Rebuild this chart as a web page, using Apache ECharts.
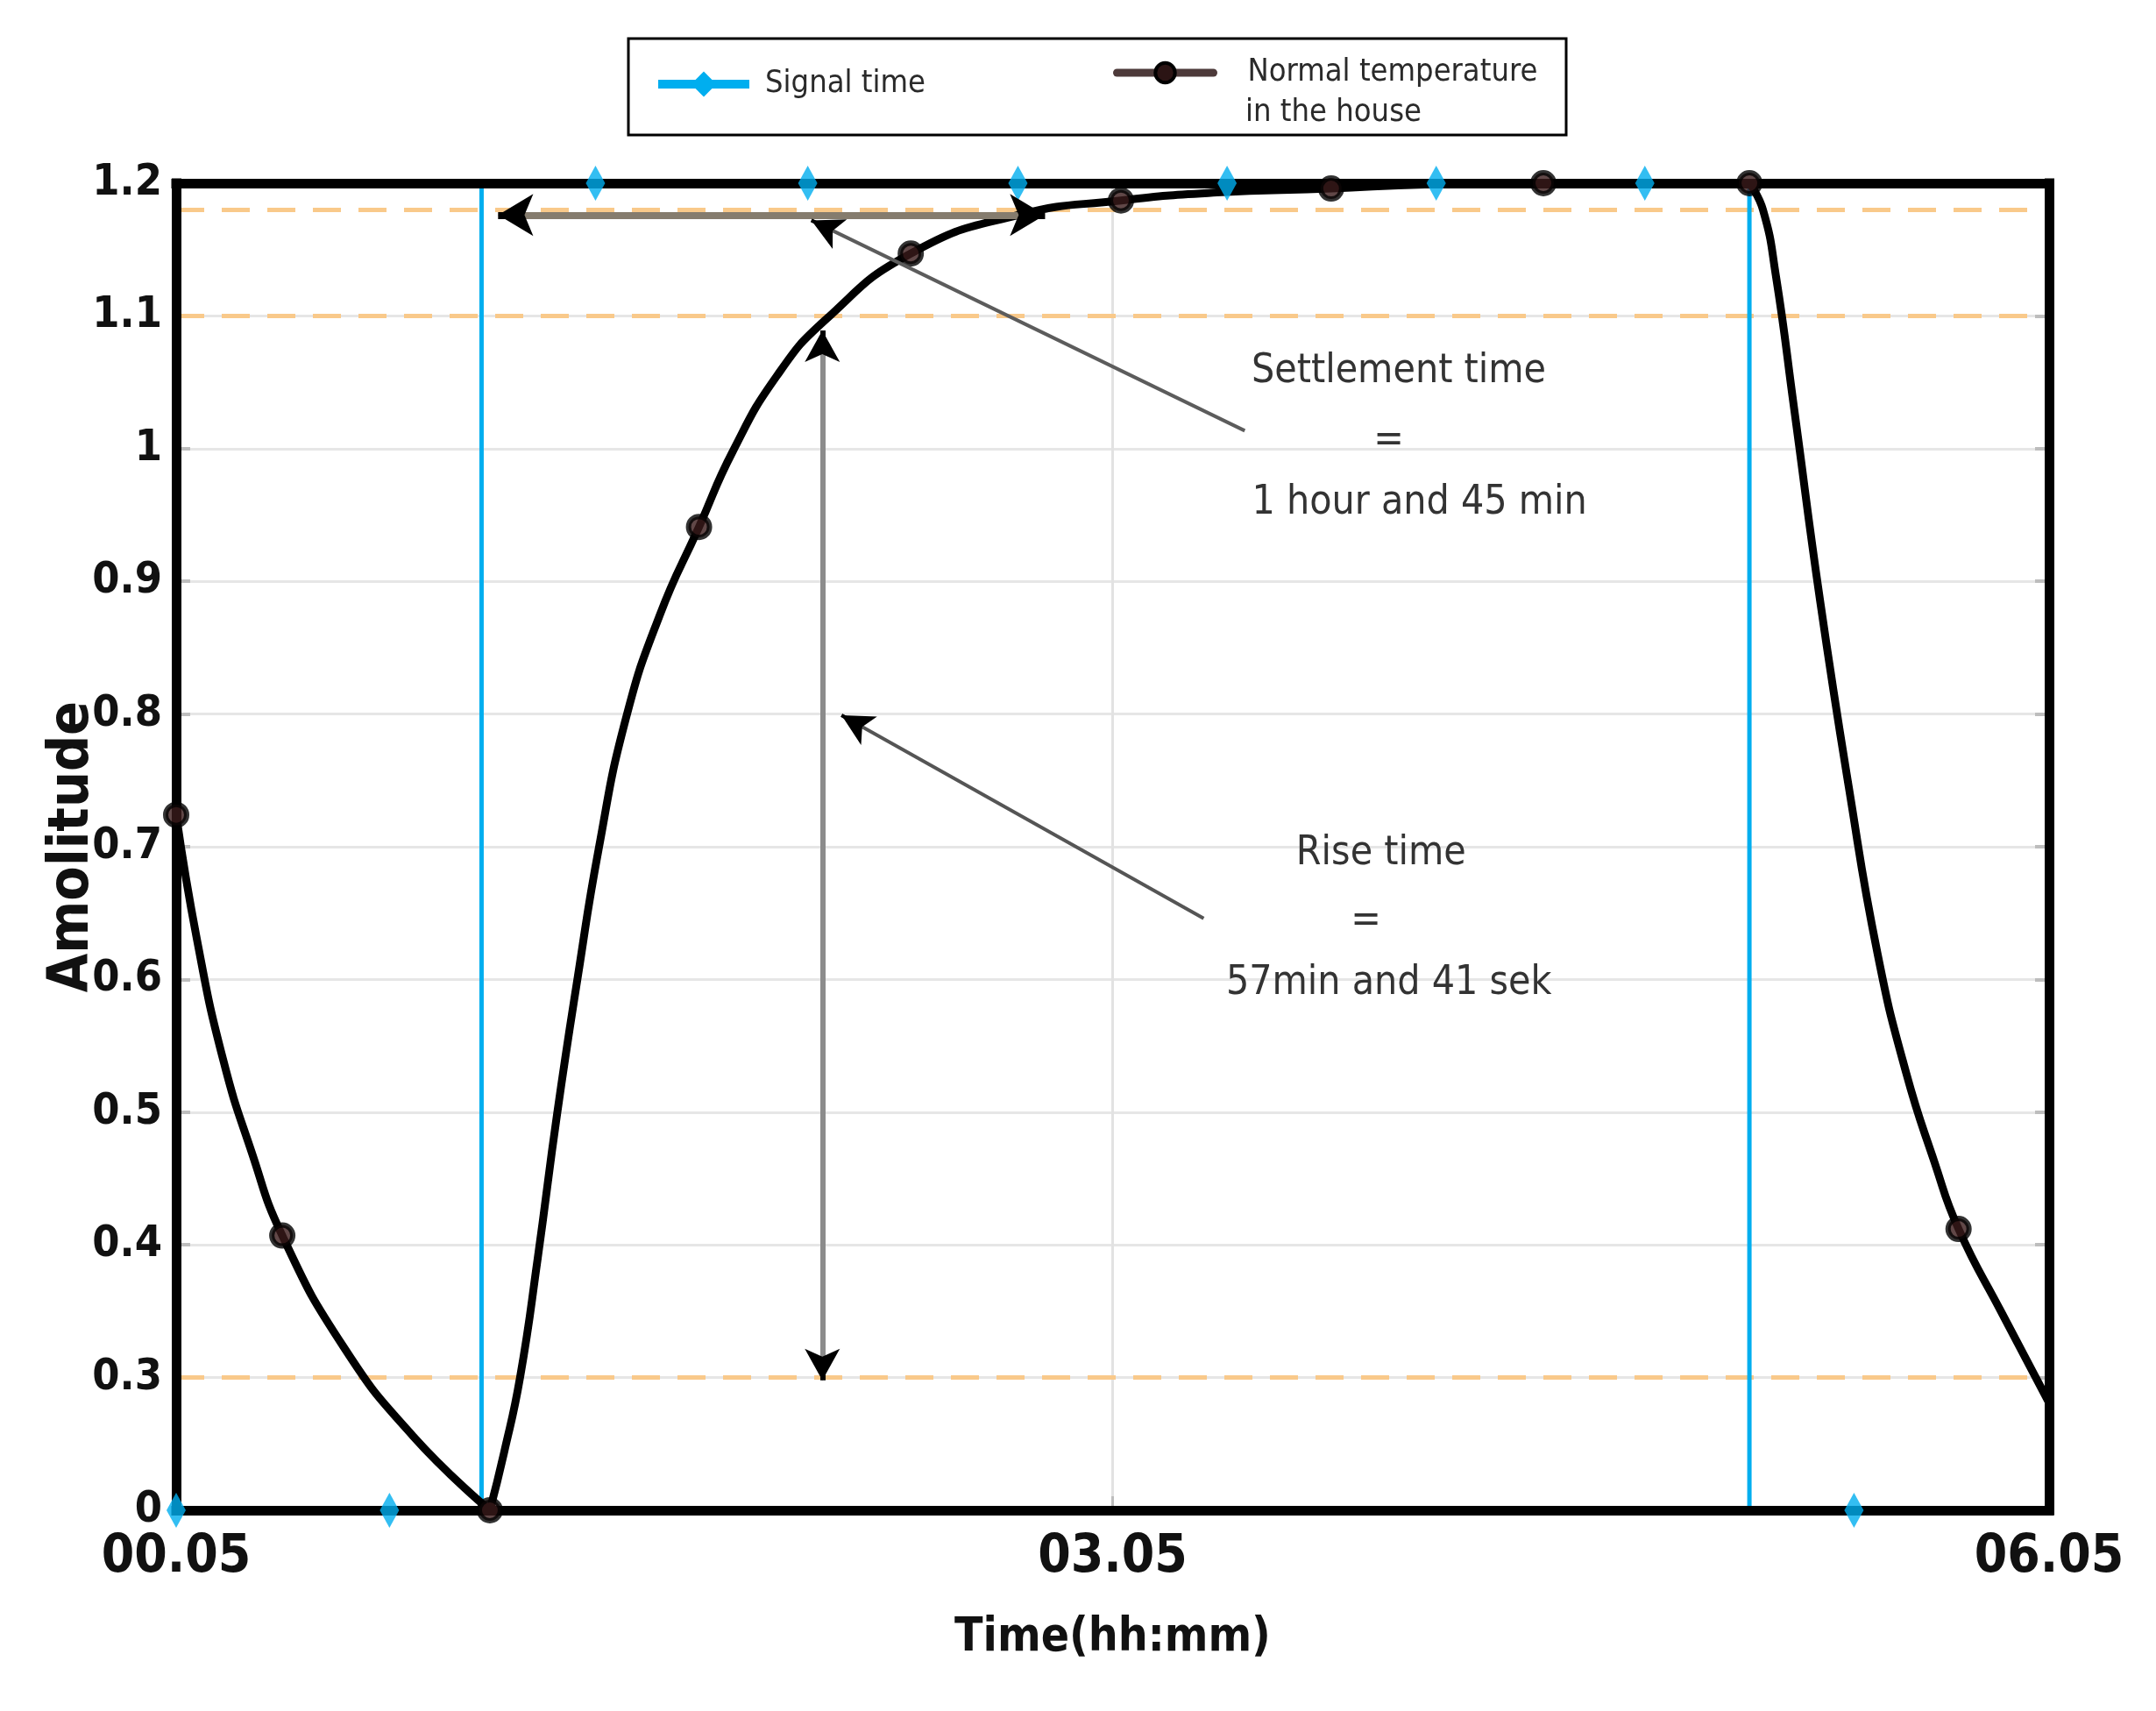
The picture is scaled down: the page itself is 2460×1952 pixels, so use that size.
<!DOCTYPE html>
<html>
<head>
<meta charset="utf-8">
<script src="https://cdn.jsdelivr.net/npm/echarts@6/dist/echarts.min.js"></script>
<style>html,body{margin:0;padding:0;background:#fff}#c{width:2460px;height:1952px}</style>
</head>
<body>
<div id="c"></div>
<script>
// ---------- data ----------
const xTickValues = [0, 180, 360];               // minutes after 00.05
const xTickLabels = ['00.05', '03.05', '06.05'];
const yTickLabels = ['0', '0.3', '0.4', '0.5', '0.6', '0.7', '0.8', '0.9', '1', '1.1', '1.2'];

const signalName = 'Signal time';
// square-wave outline of the signal
const signalLineTime  = [0, 58.7, 58.7, 302.4, 302.4, 360];
const signalLineValue = [0.2, 0.2, 1.2, 1.2, 0.2, 0.2];
// diamond sample points of the signal
const signalMarkTime  = [0, 41, 80.6, 121.4, 161.8, 202, 242.2, 282.3, 322.5];
const signalMarkValue = [0.2, 0.2, 1.2, 1.2, 1.2, 1.2, 1.2, 1.2, 0.2];

const tempName = 'Normal temperature in the house';
const tempTime   = [0, 4, 9, 14.5, 20.4, 32.2, 45.5, 60.3, 63, 66.1, 69.5, 73.2, 77.2, 81.2, 86.4, 93, 100.5, 107, 115.5, 124.8, 141.2, 161.8, 181.6, 200, 222, 240, 262.8, 302.4, 305, 307.5, 311, 316, 321.5, 327, 332.5, 338, 342.6, 351, 360];
const tempValue  = [0.724, 0.63, 0.54, 0.47, 0.407, 0.323, 0.256, 0.2, 0.243, 0.3, 0.39, 0.498, 0.602, 0.698, 0.796, 0.875, 0.941, 0.998, 1.055, 1.097, 1.147, 1.176, 1.187, 1.193, 1.196, 1.199, 1.2, 1.2, 1.18, 1.13, 1.03, 0.885, 0.745, 0.62, 0.53, 0.462, 0.412, 0.348, 0.281];
const tempMarked = [1, 0, 0, 0, 1, 0, 0, 1, 0, 0, 0, 0, 0, 0, 0, 0, 1, 0, 0, 0, 1, 0, 1, 0, 1, 0, 1, 1, 0, 0, 0, 0, 0, 0, 0, 0, 1, 0, 0];
const tempCorner = [0, 0, 0, 0, 0, 0, 0, 1, 0, 0, 0, 0, 0, 0, 0, 0, 0, 0, 0, 0, 0, 0, 0, 0, 0, 0, 0, 1, 0, 0, 0, 0, 0, 0, 0, 0, 0, 0, 0];

const refLevels = [1.176, 1.1, 0.3];   // orange dashed reference lines

// annotation arrows
const arrowFrom = [[61.9, 1.176], [205.4, 1.0135], [124.2, 0.298], [197.5, 0.646]];
const arrowTo   = [[167, 1.176],  [122.1, 1.172],  [124.2, 1.089], [127.9, 0.799]];
const arrowBoth = [true, false, true, false];

const noteTexts = ['Settlement time', '=', '1 hour and 45 min', 'Rise time', '=', '57min and 41 sek'];
const noteTime  = [235.0, 233.1, 239.0, 231.6, 228.7, 233.1];
const noteValue = [1.058, 1.006, 0.959, 0.695, 0.644, 0.597];

// ---------- styling ----------
const NARROW = '"Liberation Sans Narrow", "DejaVu Sans Condensed", "Arial Narrow", sans-serif';
const BLUE = '#00aeef';
const X_MIN = 0, X_MAX = 360, Y_MIN = 0.2, Y_MAX = 1.2;

const signalLine = signalLineTime.map((t, i) => [t, signalLineValue[i]]);
const signalMarks = signalMarkTime.map((t, i) => [t, signalMarkValue[i]]);
// temperature curve; sharp corners are kept by breaking the smooth path there
const tempData = [];
tempTime.forEach((t, i) => {
  tempData.push([t, tempValue[i]]);
  if (tempCorner[i]) { tempData.push('-'); tempData.push([t, tempValue[i]]); }
});
const tempMarkers = tempTime.map((t, i) => [t, tempValue[i]]).filter((d, i) => tempMarked[i]);

const arrowStyles = [
  {color: '#857c6e', width: 8, size: [36, 40]},
  {color: '#5c5c5c', width: 4, size: [28, 36]},
  {color: '#8c8c8c', width: 6, size: [30, 36]},
  {color: '#555555', width: 4, size: [28, 36]}
];
const PX_T = (2338 - 201) / 360, PX_V = (1723 - 209) / 1.0;
const arrowLines = [];
arrowFrom.forEach((f, i) => {
  const t = arrowTo[i], st = arrowStyles[i];
  arrowLines.push({
    data: [{coord: f, symbol: 'none'}, {coord: t, symbol: 'none'}],
    lineStyle: {color: st.color, width: st.width, type: 'solid'}
  });
  const dx = (t[0] - f[0]) * PX_T, dy = (t[1] - f[1]) * PX_V;
  const len = Math.sqrt(dx * dx + dy * dy), fr = 14 / len;
  const heads = [[t, f]];
  if (arrowBoth[i]) heads.push([f, t]);
  heads.forEach(([tip, other]) => {
    const back = [tip[0] + (other[0] - tip[0]) * fr, tip[1] + (other[1] - tip[1]) * fr];
    arrowLines.push({
      data: [{coord: back, symbol: 'none'},
             {coord: tip, symbol: 'arrow', symbolSize: st.size}],
      lineStyle: {color: '#000', width: st.width, type: 'solid'}
    });
  });
});

function borderX(pos) {
  return {type: 'value', min: X_MIN, max: X_MAX, position: pos, z: 3,
    axisLine: {show: true, onZero: false, lineStyle: {color: '#000', width: 11, cap: 'square'}},
    axisTick: {show: false}, axisLabel: {show: false}, splitLine: {show: false}};
}
function borderY(pos) {
  return {type: 'value', min: Y_MIN, max: Y_MAX, position: pos, z: 3,
    axisLine: {show: true, onZero: false, lineStyle: {color: '#000', width: 11, cap: 'square'}},
    axisTick: {show: false}, axisLabel: {show: false}, splitLine: {show: false}};
}

const option = {
  animation: false,
  backgroundColor: '#fff',
  grid: {left: 201, right: 122, top: 209, bottom: 229, containLabel: false},
  legend: [
    {data: [signalName], left: 741, top: 73, itemWidth: 104, itemHeight: 36,
     textStyle: {fontFamily: NARROW, fontSize: 36, color: '#2a2a2a', padding: [0, 0, 0, 13]},
     lineStyle: {width: 10}, selectedMode: false},
    {data: [tempName], left: 1265, top: 60, itemWidth: 110, itemHeight: 28,
     formatter: () => 'Normal temperature',
     textStyle: {fontFamily: NARROW, fontSize: 36, color: '#2a2a2a', padding: [0, 0, 0, 34]},
     lineStyle: {width: 9, color: '#4d3a3a'},
     itemStyle: {color: '#2b1414', borderColor: '#000', borderWidth: 4}, selectedMode: false}
  ],
  graphic: [
    {type: 'rect', shape: {x: 717, y: 44, width: 1070, height: 110},
     style: {fill: 'none', stroke: '#000', lineWidth: 3}, z: 10},
    {type: 'text', left: 1421, top: 111,
     style: {text: 'in the house', font: '36px ' + NARROW, fill: '#2a2a2a'}, z: 10}
  ],
  xAxis: [
    {type: 'value', min: X_MIN, max: X_MAX, interval: 180, position: 'bottom', z: 0,
     axisLine: {show: false, onZero: false},
     axisTick: {show: true, inside: true, length: 16, lineStyle: {color: '#bdbdbd', width: 3}},
     axisLabel: {margin: 24, fontFamily: NARROW, fontWeight: 'bold', fontSize: 60, color: '#111',
       formatter: v => xTickLabels[xTickValues.indexOf(Math.round(v))]},
     splitLine: {show: true, lineStyle: {color: '#e2e2e2', width: 3}},
     name: 'Time(hh:mm)', nameLocation: 'middle', nameGap: 120, nameMoveOverlap: false,
     nameTextStyle: {fontFamily: NARROW, fontWeight: 'bold', fontSize: 53, color: '#111'}},
    borderX('bottom'),
    borderX('top')
  ],
  yAxis: [
    {type: 'value', min: Y_MIN, max: Y_MAX, interval: 0.1, position: 'left', z: 0,
     axisLine: {show: false, onZero: false},
     axisTick: {show: true, inside: true, length: 16, lineStyle: {color: '#bdbdbd', width: 4}},
     axisLabel: {margin: 16, fontFamily: NARROW, fontWeight: 'bold', fontSize: 50, color: '#111',
       formatter: v => yTickLabels[Math.round((v - Y_MIN) * 10)]},
     splitLine: {show: true, lineStyle: {color: '#e6e6e6', width: 3}},
     name: 'Amolitude', nameLocation: 'middle', nameGap: 86, nameMoveOverlap: false,
     nameTextStyle: {fontFamily: NARROW, fontWeight: 'bold', fontSize: 64, color: '#111'}},
    {type: 'value', min: Y_MIN, max: Y_MAX, interval: 0.1, position: 'right', z: 0,
     axisLine: {show: false, onZero: false},
     axisTick: {show: true, inside: true, length: 16, lineStyle: {color: '#bdbdbd', width: 4}},
     axisLabel: {show: false}, splitLine: {show: false}},
    borderY('left'),
    borderY('right')
  ],
  series: [
    {name: signalName, type: 'line', xAxisIndex: 0, yAxisIndex: 0, data: signalLine,
     symbol: 'diamond', showSymbol: false, z: 2,
     lineStyle: {color: BLUE, width: 5}, itemStyle: {color: BLUE},
     markLine: {silent: true, animation: false, z: 1, symbol: ['none', 'none'],
       label: {show: false},
       lineStyle: {color: '#f9c98a', type: [32, 20], width: 5},
       data: refLevels.map(v => ({yAxis: v}))}},
    {name: tempName, type: 'line', xAxisIndex: 0, yAxisIndex: 0, data: tempData,
     smooth: 0.5, connectNulls: false, symbol: 'circle', showSymbol: false, z: 2,
     lineStyle: {color: '#000', width: 9, join: 'round', cap: 'round'},
     itemStyle: {color: '#2b1414', borderColor: '#000'},
     markLine: {silent: true, animation: false, z: 5, symbol: ['none', 'none'],
       label: {show: false}, emphasis: {disabled: true},
       data: arrowLines.map(a => [
         Object.assign({}, a.data[0], {lineStyle: a.lineStyle}),
         Object.assign({}, a.data[1])
       ])},
     markPoint: {silent: true, animation: false, z: 6, symbol: 'circle', symbolSize: 1,
       itemStyle: {color: 'rgba(0,0,0,0)'},
       label: {show: true, position: 'inside', color: '#333', fontFamily: NARROW, fontSize: 46,
         formatter: p => p.name},
       data: noteTexts.map((s, i) => ({name: s, coord: [noteTime[i], noteValue[i]]}))}},
    {name: 'signal markers', type: 'scatter', xAxisIndex: 0, yAxisIndex: 0, data: signalMarks,
     symbol: 'diamond', symbolSize: [22, 40], z: 4, itemStyle: {color: BLUE}, silent: true},
    {name: 'temperature markers', type: 'scatter', xAxisIndex: 0, yAxisIndex: 0, data: tempMarkers,
     symbol: 'circle', symbolSize: 24, z: 4, silent: true,
     itemStyle: {color: '#3a1a1a', borderColor: '#000', borderWidth: 6}}
  ]
};

const chart = echarts.init(document.getElementById('c'), null, {renderer: 'canvas'});
chart.setOption(option);
</script>
</body>
</html>
